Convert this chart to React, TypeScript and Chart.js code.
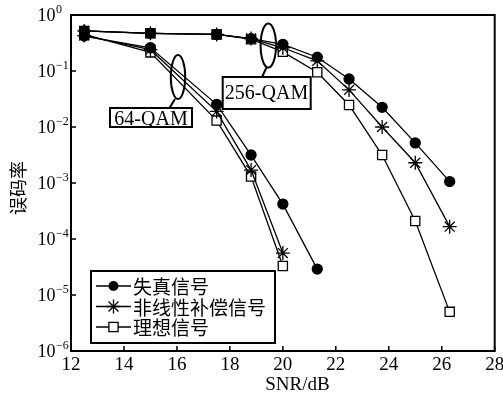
import React, { useEffect, useRef } from "react";
import { Chart, registerables } from "chart.js";

Chart.register(...registerables);

// ---- data ----
const snr256 = [12.5, 15, 17.5, 18.8, 20, 21.3, 22.5, 23.75, 25, 26.3];
const ber256Distorted = [0.52, 0.47, 0.45, 0.38, 0.3, 0.176, 0.072, 0.0225, 0.0052, 0.00106];
const ber256Compensated = [0.52, 0.47, 0.45, 0.38, 0.26, 0.152, 0.046, 0.01, 0.0023, 0.000166];
const ber256Ideal = [0.52, 0.47, 0.45, 0.37, 0.22, 0.095, 0.0247, 0.00316, 0.00021, 0.000005];

const snr64Distorted = [12.5, 15, 17.5, 18.8, 20, 21.3];
const ber64Distorted = [0.42, 0.26, 0.0254, 0.00316, 0.00042, 0.000029];
const snr64 = [12.5, 15, 17.5, 18.8, 20];
const ber64Compensated = [0.43, 0.24, 0.019, 0.0017, 0.000056];
const ber64Ideal = [0.45, 0.215, 0.013, 0.0013, 0.000033];

const xTicks = [12, 14, 16, 18, 20, 22, 24, 26, 28];
const yExponents = [0, -1, -2, -3, -4, -5, -6];
const legendLabels = ["失真信号", "非线性补偿信号", "理想信号"];
const xTitle = "SNR/dB";
const yTitle = "误码率";
const label64 = "64-QAM";
const label256 = "256-QAM";

const SERIF = '"Liberation Serif", "Times New Roman", serif';
const CJK = '"Noto Sans CJK SC", sans-serif';

function pts(xs: number[], ys: number[]) {
  return xs.map((x, i) => ({ x, y: ys[i] }));
}

function drawMarker(ctx: CanvasRenderingContext2D, kind: string, x: number, y: number) {
  ctx.save();
  ctx.strokeStyle = "#000";
  ctx.lineWidth = 1.3;
  if (kind === "circle") {
    ctx.fillStyle = "#000";
    ctx.beginPath();
    ctx.arc(x, y, 5, 0, Math.PI * 2);
    ctx.fill();
  } else if (kind === "star") {
    const r = 7;
    const d = r * Math.SQRT1_2;
    ctx.beginPath();
    ctx.moveTo(x - r, y); ctx.lineTo(x + r, y);
    ctx.moveTo(x, y - r); ctx.lineTo(x, y + r);
    ctx.moveTo(x - d, y - d); ctx.lineTo(x + d, y + d);
    ctx.moveTo(x - d, y + d); ctx.lineTo(x + d, y - d);
    ctx.stroke();
  } else {
    ctx.fillStyle = "#fff";
    ctx.fillRect(x - 4.6, y - 4.6, 9.2, 9.2);
    ctx.strokeRect(x - 4.6, y - 4.6, 9.2, 9.2);
  }
  ctx.restore();
}

const overlay = {
  id: "overlay",
  afterDraw(chart: any) {
    const ctx: CanvasRenderingContext2D = chart.ctx;
    const { left, right, top, bottom } = chart.chartArea;
    const xs = chart.scales.x;
    const ys = chart.scales.y;
    ctx.save();
    ctx.strokeStyle = "#000";
    ctx.fillStyle = "#000";

    // frame
    ctx.lineWidth = 2;
    ctx.strokeRect(left, top, right - left, bottom - top);

    // inward ticks
    ctx.lineWidth = 1.5;
    ctx.beginPath();
    for (const t of xTicks) {
      const px = xs.getPixelForValue(t);
      ctx.moveTo(px, bottom);
      ctx.lineTo(px, bottom - 5);
    }
    for (const e of yExponents) {
      const py = ys.getPixelForValue(Math.pow(10, e));
      ctx.moveTo(left, py);
      ctx.lineTo(left + 5, py);
    }
    ctx.stroke();

    // x tick labels
    ctx.font = `19px ${SERIF}`;
    ctx.textAlign = "center";
    ctx.textBaseline = "alphabetic";
    for (const t of xTicks) {
      const px = xs.getPixelForValue(t);
      ctx.fillText(String(t), px, bottom + 19);
    }

    // y tick labels with superscripts
    for (const e of yExponents) {
      const py = ys.getPixelForValue(Math.pow(10, e));
      ctx.font = `18px ${SERIF}`;
      ctx.textAlign = "right";
      ctx.fillText("10", left - 15.5, py + 6);
      ctx.font = `12px ${SERIF}`;
      ctx.textAlign = "left";
      const sup = e === 0 ? "0" : "\u2212" + String(-e);
      ctx.fillText(sup, left - 15, py - 2);
    }

    // axis titles
    ctx.font = `19px ${SERIF}`;
    ctx.textAlign = "center";
    ctx.fillText(xTitle, 297.5, 390);

    ctx.save();
    ctx.translate(18, 188);
    ctx.rotate(-Math.PI / 2);
    ctx.font = `18px ${CJK}`;
    ctx.textAlign = "center";
    ctx.textBaseline = "middle";
    ctx.fillText(yTitle, 0, 0);
    ctx.restore();

    // annotations: 64-QAM
    ctx.lineWidth = 2;
    ctx.beginPath();
    ctx.ellipse(178, 77, 7.2, 22, 0, 0, Math.PI * 2);
    ctx.stroke();
    ctx.beginPath();
    ctx.moveTo(175, 99);
    ctx.lineTo(169.5, 108);
    ctx.stroke();
    ctx.fillStyle = "#fff";
    ctx.fillRect(110, 108, 82, 19);
    ctx.strokeRect(110, 108, 82, 19);
    ctx.fillStyle = "#000";
    ctx.font = `20px ${SERIF}`;
    ctx.textAlign = "center";
    ctx.textBaseline = "alphabetic";
    ctx.fillText(label64, 151, 124.5);

    // annotations: 256-QAM
    ctx.beginPath();
    ctx.ellipse(268.3, 45.5, 7.7, 22, 0, 0, Math.PI * 2);
    ctx.stroke();
    ctx.beginPath();
    ctx.moveTo(266.5, 67.5);
    ctx.lineTo(262, 77);
    ctx.stroke();
    ctx.fillStyle = "#fff";
    ctx.fillRect(222.7, 77, 88, 32);
    ctx.strokeRect(222.7, 77, 88, 32);
    ctx.fillStyle = "#000";
    ctx.fillText(label256, 266.5, 98.5);

    // legend
    ctx.fillStyle = "#fff";
    ctx.fillRect(91, 271, 184, 72);
    ctx.strokeRect(91, 271, 184, 72);
    const kinds = ["circle", "star", "rect"];
    const rows = [286, 306.5, 327];
    ctx.font = `19px ${CJK}`;
    ctx.textAlign = "left";
    ctx.textBaseline = "middle";
    for (let i = 0; i < 3; i++) {
      const y = rows[i];
      ctx.lineWidth = 1.3;
      ctx.strokeStyle = "#000";
      ctx.beginPath();
      ctx.moveTo(96, y);
      ctx.lineTo(131, y);
      ctx.stroke();
      drawMarker(ctx, kinds[i], 113.5, y);
      ctx.fillStyle = "#000";
      ctx.fillText(legendLabels[i], 133, y + 1);
    }
    ctx.restore();
  },
};

function makeDataset(data: { x: number; y: number }[], kind: string) {
  const base: any = {
    data,
    borderColor: "#000",
    borderWidth: 1.3,
    showLine: true,
    tension: 0,
    pointBorderWidth: 1.3,
    pointBorderColor: "#000",
  };
  if (kind === "circle") {
    base.pointStyle = "circle";
    base.pointRadius = 5;
    base.pointBackgroundColor = "#000";
  } else if (kind === "star") {
    base.pointStyle = "star";
    base.pointRadius = 7;
    base.pointBackgroundColor = "#000";
  } else {
    base.pointStyle = "rect";
    base.pointRadius = 6.5;
    base.pointBackgroundColor = "#fff";
  }
  return base;
}

export default function App() {
  const ref = useRef<HTMLCanvasElement | null>(null);

  useEffect(() => {
    document.body.style.margin = "0";
    const canvas = ref.current;
    if (!canvas) return;
    const chart = new Chart(canvas, {
      type: "scatter",
      data: {
        datasets: [
          makeDataset(pts(snr256, ber256Distorted), "circle"),
          makeDataset(pts(snr256, ber256Compensated), "star"),
          makeDataset(pts(snr256, ber256Ideal), "rect"),
          makeDataset(pts(snr64Distorted, ber64Distorted), "circle"),
          makeDataset(pts(snr64, ber64Compensated), "star"),
          makeDataset(pts(snr64, ber64Ideal), "rect"),
        ],
      },
      options: {
        animation: false,
        responsive: false,
        devicePixelRatio: 1,
        layout: { padding: { left: 71, right: 6, top: 15, bottom: 47 } },
        plugins: {
          legend: { display: false },
          tooltip: { enabled: false },
        },
        scales: {
          x: { type: "linear", min: 12, max: 28, display: false },
          y: { type: "logarithmic", min: 1e-6, max: 1, display: false },
        },
      },
      plugins: [overlay],
    });
    return () => chart.destroy();
  }, []);

  return (
    <div style={{ width: 503, height: 398, background: "#fff" }}>
      <canvas ref={ref} width={503} height={398} style={{ display: "block" }} />
    </div>
  );
}
